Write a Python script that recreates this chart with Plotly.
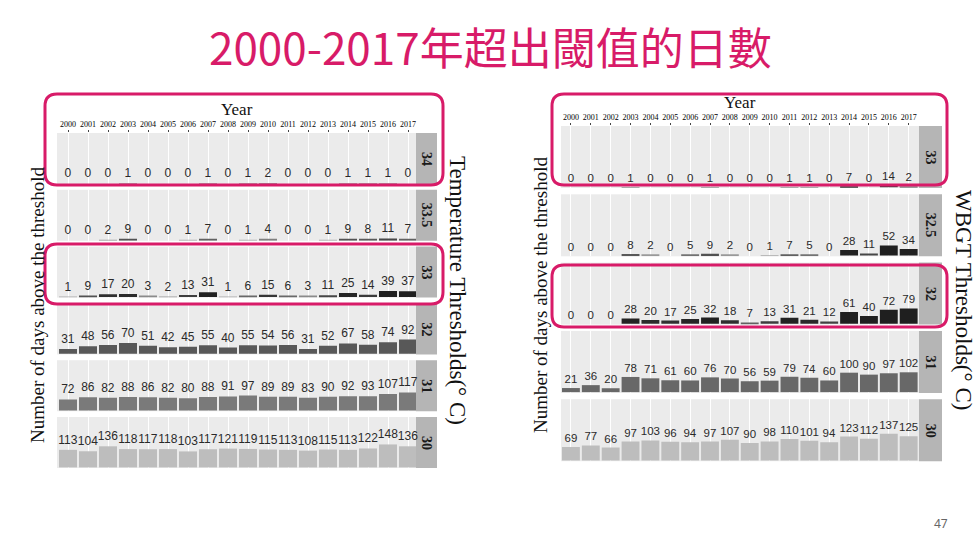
import math
import plotly.graph_objects as go

# ---------------- data ----------------
years = list(range(2000, 2018))

temp_thresholds = ["34", "33.5", "33", "32", "31", "30"]
temp_34 = [0, 0, 0, 1, 0, 0, 0, 1, 0, 1, 2, 0, 0, 0, 1, 1, 1, 0]
temp_33_5 = [0, 0, 2, 9, 0, 0, 1, 7, 0, 1, 4, 0, 0, 1, 9, 8, 11, 7]
temp_33 = [1, 9, 17, 20, 3, 2, 13, 31, 1, 6, 15, 6, 3, 11, 25, 14, 39, 37]
temp_32 = [31, 48, 56, 70, 51, 42, 45, 55, 40, 55, 54, 56, 31, 52, 67, 58, 74, 92]
temp_31 = [72, 86, 82, 88, 86, 82, 80, 88, 91, 97, 89, 89, 83, 90, 92, 93, 107, 117]
temp_30 = [113, 104, 136, 118, 117, 118, 103, 117, 121, 119, 115, 113, 108, 115, 113, 122, 148, 136]

wbgt_thresholds = ["33", "32.5", "32", "31", "30"]
wbgt_33 = [0, 0, 0, 1, 0, 0, 0, 1, 0, 0, 0, 1, 1, 0, 7, 0, 14, 2]
wbgt_32_5 = [0, 0, 0, 8, 2, 0, 5, 9, 2, 0, 1, 7, 5, 0, 28, 11, 52, 34]
wbgt_32 = [0, 0, 0, 28, 20, 17, 25, 32, 18, 7, 13, 31, 21, 12, 61, 40, 72, 79]
wbgt_31 = [21, 36, 20, 78, 71, 61, 60, 76, 70, 56, 59, 79, 74, 60, 100, 90, 97, 102]
wbgt_30 = [69, 77, 66, 97, 103, 96, 94, 97, 107, 90, 98, 110, 101, 94, 123, 112, 137, 125]

temp_series = [temp_34, temp_33_5, temp_33, temp_32, temp_31, temp_30]
wbgt_series = [wbgt_33, wbgt_32_5, wbgt_32, wbgt_31, wbgt_30]

title_text = "2000-2017年超出閾值的日數"
ylab = "Number of days above the threshold"
temp_lab = "Temperature Thresholds(° C)"
wbgt_lab = "WBGT Thresholds(° C)"
page_no = "47"

# ---------------- styles ----------------
W, H = 980, 544
PINK = "#d81b68"
SERIF = "Liberation Serif, Times New Roman, serif"
SANS = "Liberation Sans, Arial, sans-serif"

temp_modes = ["scale", "scale", "scale", "#585858", "#7a7a7a", "#bdbdbd"]
wbgt_modes = ["scale", "scale", "scale", "#686868", "#bdbdbd"]


def X(p):
    return p / W


def Y(p):
    return 1 - p / H


def grey(v):
    L = 0.12 + 0.62 * math.exp(-v / 8.0)
    c = int(round(L * 255))
    return f"rgb({c},{c},{c})"


def colours(vals, mode):
    if mode == "scale":
        return [grey(v) for v in vals]
    return [mode] * len(vals)


def note(x, y, text, size, family, color="#111", angle=0):
    return dict(xref="paper", yref="paper", x=X(x), y=Y(y), text=text,
                showarrow=False, textangle=angle, xanchor="center", yanchor="middle",
                font=dict(family=family, size=size, color=color))


fig = go.Figure()
layout = {}
annotations = []
shapes = []
k = 0


def add_block(series, labels, modes, x0, x1, xr, top0, step, h, yr, fs, strip_x0, strip_x1, year_title_y):
    global k
    for i, (vals, lab, mode) in enumerate(zip(series, labels, modes)):
        k += 1
        xa = "x" if k == 1 else f"x{k}"
        ya = "y" if k == 1 else f"y{k}"
        xkey = "xaxis" if k == 1 else f"xaxis{k}"
        ykey = "yaxis" if k == 1 else f"yaxis{k}"
        top = top0 + i * step
        bot = top + h
        fig.add_trace(go.Bar(
            x=years, y=vals, xaxis=xa, yaxis=ya,
            marker=dict(color=colours(vals, mode), line=dict(width=0)),
            text=[str(v) for v in vals], textposition="outside",
            constraintext="none", cliponaxis=False,
            textfont=dict(family=SANS, size=fs, color="#2a2a2a"),
            showlegend=False, hoverinfo="skip", width=0.9,
        ))
        layout[xkey] = dict(
            domain=[X(x0), X(x1)], anchor=ya, range=xr,
            showgrid=True, gridcolor="white", gridwidth=1,
            tickvals=years, ticktext=[str(y) for y in years],
            showticklabels=(i == 0), side="top",
            ticks="outside" if i == 0 else "", ticklen=2, tickcolor="#444",
            tickfont=dict(family=SERIF, size=8, color="#000"),
            zeroline=False, showline=False, fixedrange=True,
        )
        layout[ykey] = dict(
            domain=[Y(bot), Y(top)], anchor=xa, range=yr,
            showgrid=False, zeroline=False, showticklabels=False,
            showline=False, fixedrange=True,
        )
        shapes.append(dict(type="rect", xref="paper", yref="paper",
                           x0=X(strip_x0), x1=X(strip_x1), y0=Y(bot), y1=Y(top),
                           fillcolor="#b5b5b5", line=dict(width=0), layer="below"))
        annotations.append(note((strip_x0 + strip_x1) / 2, (top + bot) / 2,
                                f"<b>{lab}</b>", 14, SERIF, "#1a1a1a", 90))
    annotations.append(note((x0 + x1) / 2, year_title_y, "Year", 17, SERIF, "#111"))


add_block(temp_series, temp_thresholds, temp_modes, 57, 416, [1999.45, 2017.4],
          133, 56.8, 51, [-4, 325], 12, 416, 437, 109)
add_block(wbgt_series, wbgt_thresholds, wbgt_modes, 561, 919, [1999.5, 2017.52],
          126, 68.3, 62, [-4, 315], 11.5, 919, 942, 102)


def rrect(x0, y0, x1, y1, r):
    pts = [
        f"M {X(x0 + r)},{Y(y0)}", f"L {X(x1 - r)},{Y(y0)}",
        f"Q {X(x1)},{Y(y0)} {X(x1)},{Y(y0 + r)}", f"L {X(x1)},{Y(y1 - r)}",
        f"Q {X(x1)},{Y(y1)} {X(x1 - r)},{Y(y1)}", f"L {X(x0 + r)},{Y(y1)}",
        f"Q {X(x0)},{Y(y1)} {X(x0)},{Y(y1 - r)}", f"L {X(x0)},{Y(y0 + r)}",
        f"Q {X(x0)},{Y(y0)} {X(x0 + r)},{Y(y0)}", "Z",
    ]
    return dict(type="path", xref="paper", yref="paper", path=" ".join(pts),
                line=dict(color=PINK, width=3), layer="above")


shapes += [
    rrect(45, 94, 443, 185, 12),
    rrect(45, 244, 443, 304, 12),
    rrect(552, 94, 947, 185, 12),
    rrect(552, 265, 947, 327, 12),
]

annotations += [
    note(490, 46, title_text, 44, "Noto Sans CJK TC, sans-serif", PINK),
    note(37, 305, ylab, 19, SERIF, "#111", -90),
    note(458, 290, temp_lab, 23, SERIF, "#111", 90),
    note(540, 295, ylab, 19, SERIF, "#111", -90),
    note(964, 300, wbgt_lab, 23, SERIF, "#111", 90),
    note(941, 523, page_no, 12, "Noto Sans, sans-serif", "#666"),
]

fig.update_layout(
    width=W, height=H, margin=dict(l=0, r=0, t=0, b=0),
    paper_bgcolor="white", plot_bgcolor="#ebebeb",
    bargap=0.1, shapes=shapes, annotations=annotations, **layout,
)

fig.write_html("out.html")
